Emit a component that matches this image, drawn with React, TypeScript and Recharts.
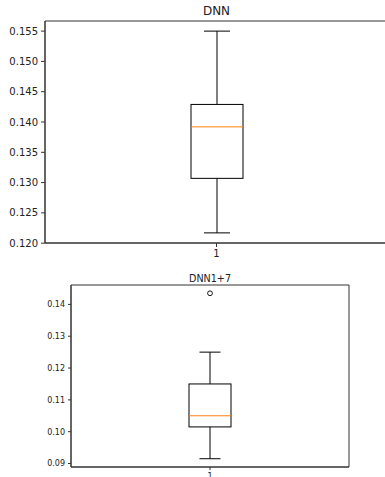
import React from 'react';
import { ComposedChart, Bar, Scatter, XAxis, YAxis, ReferenceArea } from 'recharts';

// Box statistics: [min whisker, Q1, median, Q3, max whisker]
const categories = ['1'];
const dnnStats = [0.1217, 0.1307, 0.1392, 0.1429, 0.1550];
const dnn17Stats = [0.0915, 0.1015, 0.1050, 0.1150, 0.1250];
const dnn17Outliers = [0.1435];
const dnnTicks = [0.12, 0.125, 0.13, 0.135, 0.14, 0.145, 0.15, 0.155];
const dnn17Ticks = [0.09, 0.1, 0.11, 0.12, 0.13, 0.14];
const dnnDomain = [0.12003, 0.15667];
const dnn17Domain = [0.0889, 0.1461];

const FONT = 'DejaVu Sans';
const SPINE = '#333';
const TEXT = '#222';

function makeRow(stats: number[], outliers: number[]) {
  return categories.map((c) => ({
    name: c,
    range: [stats[0], stats[4]],
    min: stats[0],
    q1: stats[1],
    median: stats[2],
    q3: stats[3],
    max: stats[4],
    outlier: outliers.length ? outliers[0] : null,
  }));
}

const BoxShape = (props: any) => {
  const { x, y, width, height, payload } = props;
  const top = Math.min(y, y + height);
  const h = Math.abs(height);
  const { min, q1, median, q3, max } = payload;
  const pix = (v: number) => top + (h * (max - v)) / (max - min);
  const cx = x + width / 2;
  const capHalf = width / 4;
  const yq1 = pix(q1);
  const yq3 = pix(q3);
  const ymed = pix(median);
  const ymin = pix(min);
  const ymax = pix(max);
  return (
    <g>
      <line x1={cx} x2={cx} y1={ymax} y2={yq3} stroke="#000" strokeWidth={1} />
      <line x1={cx} x2={cx} y1={yq1} y2={ymin} stroke="#000" strokeWidth={1} />
      <line x1={cx - capHalf} x2={cx + capHalf} y1={ymax} y2={ymax} stroke="#000" strokeWidth={1} />
      <line x1={cx - capHalf} x2={cx + capHalf} y1={ymin} y2={ymin} stroke="#000" strokeWidth={1} />
      <rect x={x} y={yq3} width={width} height={yq1 - yq3} fill="none" stroke="#000" strokeWidth={1} />
      <line x1={x} x2={x + width} y1={ymed} y2={ymed} stroke="#ff7f0e" strokeWidth={1} />
    </g>
  );
};

const OutlierShape = (props: any) => {
  const { cx, cy, r } = props;
  if (cx == null || cy == null) return null;
  return <circle cx={cx} cy={cy} r={r} fill="none" stroke="#000" strokeWidth={0.9} />;
};

type PanelProps = {
  width: number;
  height: number;
  margin: { top: number; right: number; bottom: number; left: number };
  yWidth: number;
  xHeight: number;
  stats: number[];
  outliers: number[];
  domain: number[];
  ticks: number[];
  digits: number;
  fontSize: number;
  barSize: number;
  tickSize: number;
  markerR: number;
};

const Panel = (p: PanelProps) => {
  const data = makeRow(p.stats, p.outliers);
  const tick = { fontSize: p.fontSize, fontFamily: FONT, fill: TEXT };
  return (
    <ComposedChart width={p.width} height={p.height} data={data} margin={p.margin}>
      <XAxis
        dataKey="name"
        type="category"
        height={p.xHeight}
        tick={tick}
        tickSize={p.tickSize}
        tickMargin={3}
        axisLine={{ stroke: SPINE }}
        tickLine={{ stroke: SPINE }}
        interval={0}
      />
      <YAxis
        type="number"
        domain={p.domain}
        ticks={p.ticks}
        width={p.yWidth}
        tick={tick}
        tickSize={p.tickSize}
        tickMargin={3}
        allowDataOverflow
        axisLine={{ stroke: SPINE }}
        tickLine={{ stroke: SPINE }}
        tickFormatter={(v: number) => v.toFixed(p.digits)}
        interval={0}
      />
      <ReferenceArea
        y1={p.domain[0]}
        y2={p.domain[1]}
        fill="none"
        fillOpacity={0}
        stroke={SPINE}
        strokeWidth={1}
        ifOverflow="extendDomain"
      />
      <Bar dataKey="range" barSize={p.barSize} shape={BoxShape} isAnimationActive={false} />
      {p.outliers.length > 0 && (
        <Scatter
          dataKey="outlier"
          shape={(sp: any) => <OutlierShape {...sp} r={p.markerR} />}
          isAnimationActive={false}
        />
      )}
    </ComposedChart>
  );
};

export default function App() {
  return (
    <div
      style={{
        position: 'absolute',
        left: 0,
        top: 0,
        width: 385,
        height: 477,
        overflow: 'hidden',
        background: '#fff',
      }}
    >
      <div
        style={{
          position: 'absolute',
          top: 4,
          left: 45,
          width: 343,
          textAlign: 'center',
          fontFamily: FONT,
          fontSize: 12,
          lineHeight: '14px',
          color: TEXT,
        }}
      >
        DNN
      </div>
      <div style={{ position: 'absolute', left: 0, top: 0 }}>
        <Panel
          width={395}
          height={260}
          margin={{ top: 21, right: 7, bottom: 0, left: 0 }}
          yWidth={45}
          xHeight={17}
          stats={dnnStats}
          outliers={[]}
          domain={dnnDomain}
          ticks={dnnTicks}
          digits={3}
          fontSize={10}
          barSize={52}
          tickSize={4}
          markerR={3}
        />
      </div>
      <div
        style={{
          position: 'absolute',
          top: 272.7,
          left: 71,
          width: 278,
          textAlign: 'center',
          fontFamily: FONT,
          fontSize: 9.6,
          lineHeight: '12px',
          color: TEXT,
        }}
      >
        DNN1+7
      </div>
      <div style={{ position: 'absolute', left: 0, top: 260 }}>
        <Panel
          width={385}
          height={217}
          margin={{ top: 25, right: 36, bottom: 0, left: 0 }}
          yWidth={71}
          xHeight={10}
          stats={dnn17Stats}
          outliers={dnn17Outliers}
          domain={dnn17Domain}
          ticks={dnn17Ticks}
          digits={2}
          fontSize={8}
          barSize={42}
          tickSize={3}
          markerR={2.4}
        />
      </div>
    </div>
  );
}
